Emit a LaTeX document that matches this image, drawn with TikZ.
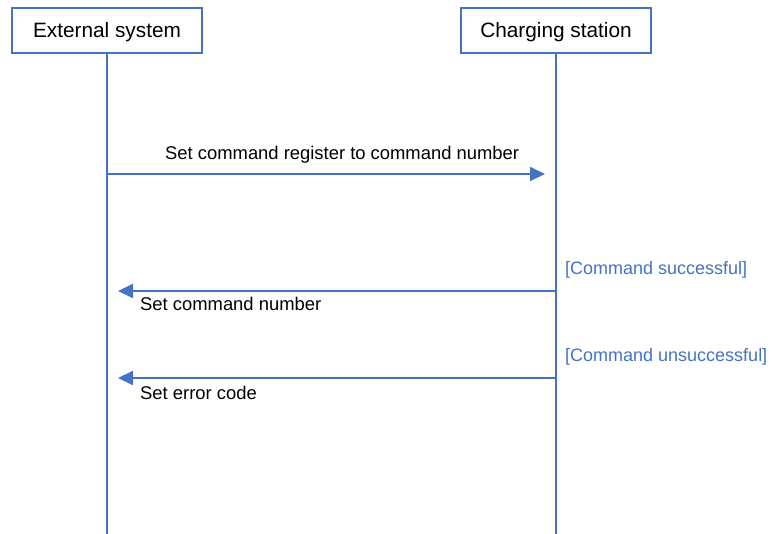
\documentclass[tikz,border=0pt]{standalone}
\usepackage{fontspec}
\setmainfont{Liberation Sans}
\usetikzlibrary{arrows.meta,positioning}
\definecolor{lineblue}{RGB}{68,114,196}

\begin{document}
\begin{tikzpicture}[x=1pt,y=-1pt]
\tikzstyle{every node}+=[inner sep=0pt]
\tikzstyle{actor}=[draw=lineblue, line width=1.6pt, fill=white, minimum width=190pt, minimum height=45pt, text height=15pt, text depth=0pt, font=\fontsize{20.8}{24}\selectfont]
\tikzstyle{lifeline}=[lineblue, line width=1.5pt]
\tikzstyle{msg}=[lineblue, line width=1.8pt, -{Triangle[length=15pt,width=14pt]}, shorten >=11pt]
\tikzstyle{msgtext}=[font=\fontsize{18.4}{22}\selectfont]
\tikzstyle{guard}=[text=lineblue, font=\fontsize{18}{22}\selectfont]
\useasboundingbox (0,0) rectangle (772,534);
\draw (107,30.5) node [actor] (ext) {External system};
\draw (556,30.5) node [actor] (cs) {Charging station};
\coordinate (ext-end) at (107,534);
\coordinate (cs-end) at (556,534);
\draw [lifeline] (ext) -- (ext-end);
\draw [lifeline] (cs) -- (cs-end);
\coordinate (ext-m1) at (107,174);
\coordinate (cs-m1) at (556,174);
\coordinate (ext-m2) at (107,291);
\coordinate (cs-m2) at (556,291);
\coordinate (ext-m3) at (107,378);
\coordinate (cs-m3) at (556,378);
\draw [msg] (ext-m1) -- (cs-m1);
\draw (165,160) node [msgtext, anchor=base west] (m1) {Set command register to command number};
\draw [msg] (cs-m2) -- (ext-m2);
\draw (565,275) node [guard, anchor=base west] (g2) {[Command successful]};
\draw (140,311) node [msgtext, anchor=base west] (m2) {Set command number};
\draw [msg] (cs-m3) -- (ext-m3);
\draw (565,362) node [guard, anchor=base west] (g3) {[Command unsuccessful]};
\draw (140,400) node [msgtext, anchor=base west] (m3) {Set error code};
\end{tikzpicture}
\end{document}
